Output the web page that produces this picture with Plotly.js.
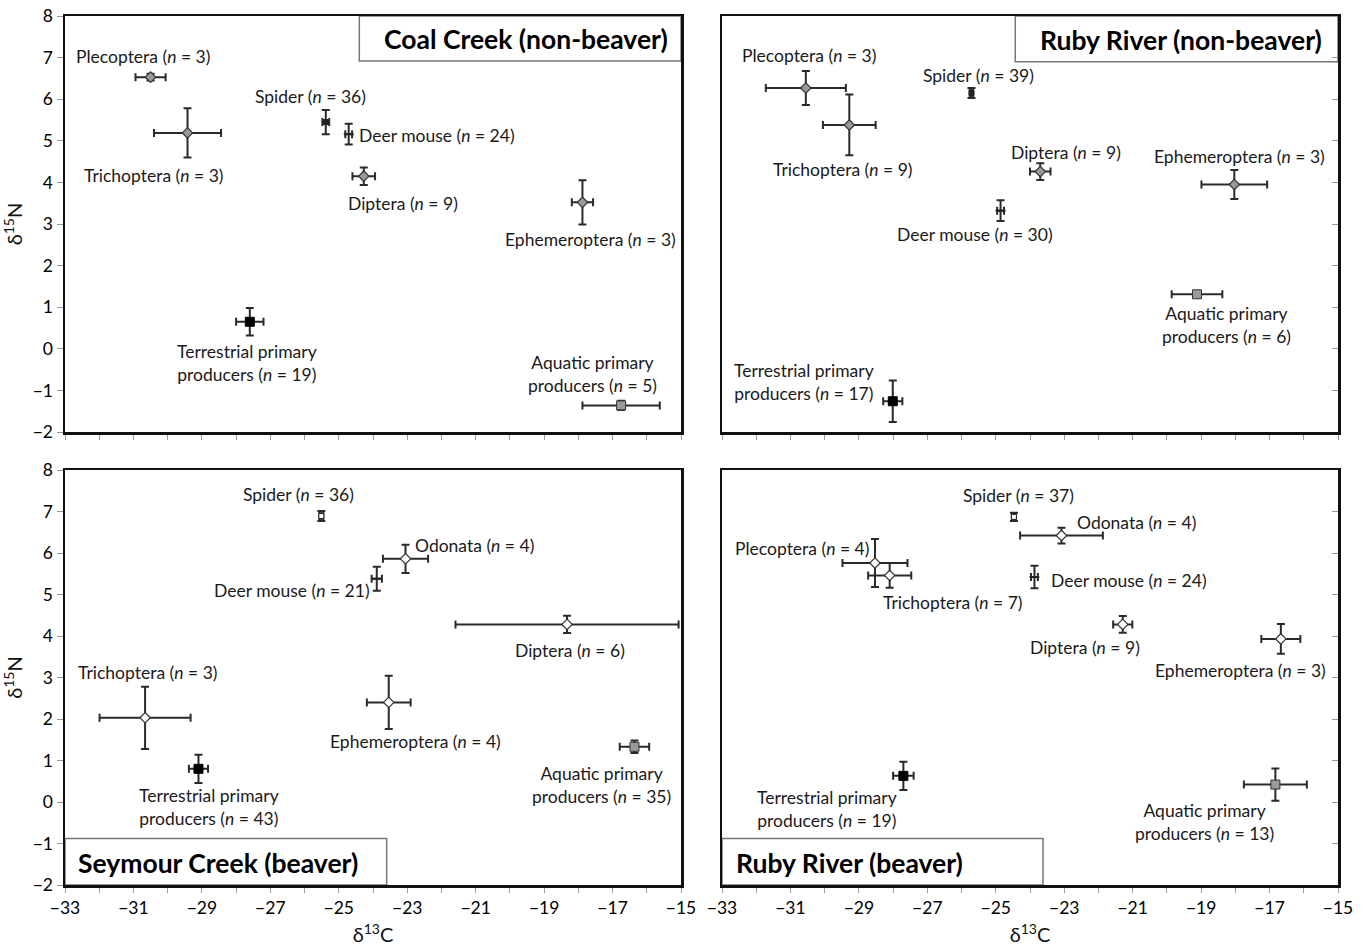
<!DOCTYPE html>
<html>
<head>
<meta charset="utf-8">
<script src="https://cdn.plot.ly/plotly-3.0.1.min.js"></script>
<style>html,body{margin:0;padding:0;background:#fff;}#chart{width:1363px;height:946px;}</style>
</head>
<body>
<div id="chart"></div>
<script>
// ---------- DATA ----------
const panelTitles = ['Coal Creek (non-beaver)', 'Ruby River (non-beaver)', 'Seymour Creek (beaver)', 'Ruby River (beaver)'];

const coalGroups = ['Plecoptera', 'Trichoptera', 'Spider', 'Deer mouse', 'Diptera', 'Ephemeroptera', 'Terrestrial primary producers', 'Aquatic primary producers'];
const coalN      = [3, 3, 36, 24, 9, 3, 19, 5];
const coalC13    = [-30.50, -29.42, -25.38, -24.71, -24.27, -17.88, -27.60, -16.75];
const coalC13sd  = [0.44, 0.98, 0.10, 0.10, 0.33, 0.31, 0.40, 1.13];
const coalN15    = [6.53, 5.19, 5.45, 5.16, 4.15, 3.52, 0.65, -1.36];
const coalN15sd  = [0.08, 0.59, 0.29, 0.25, 0.21, 0.53, 0.33, 0.11];

const rubyNbGroups = ['Plecoptera', 'Trichoptera', 'Spider', 'Deer mouse', 'Diptera', 'Ephemeroptera', 'Terrestrial primary producers', 'Aquatic primary producers'];
const rubyNbN      = [3, 9, 39, 30, 9, 3, 17, 6];
const rubyNbC13    = [-30.55, -29.28, -25.71, -24.86, -23.70, -18.03, -28.01, -19.12];
const rubyNbC13sd  = [1.17, 0.77, 0.05, 0.10, 0.30, 0.96, 0.28, 0.74];
const rubyNbN15    = [6.27, 5.38, 6.15, 3.32, 4.26, 3.95, -1.26, 1.31];
const rubyNbN15sd  = [0.41, 0.73, 0.12, 0.25, 0.20, 0.35, 0.50, 0.05];

const seymourGroups = ['Spider', 'Odonata', 'Deer mouse', 'Diptera', 'Trichoptera', 'Ephemeroptera', 'Terrestrial primary producers', 'Aquatic primary producers'];
const seymourN      = [36, 4, 21, 6, 3, 4, 43, 35];
const seymourC13    = [-25.51, -23.05, -23.89, -18.33, -30.66, -23.54, -29.10, -16.36];
const seymourC13sd  = [0.06, 0.66, 0.15, 3.26, 1.33, 0.64, 0.28, 0.43];
const seymourN15    = [6.89, 5.86, 5.38, 4.28, 2.03, 2.40, 0.80, 1.33];
const seymourN15sd  = [0.12, 0.34, 0.29, 0.21, 0.75, 0.64, 0.34, 0.15];

const rubyBGroups = ['Spider', 'Odonata', 'Plecoptera', 'Trichoptera', 'Deer mouse', 'Diptera', 'Ephemeroptera', 'Terrestrial primary producers', 'Aquatic primary producers'];
const rubyBN      = [37, 4, 4, 7, 24, 9, 3, 19, 13];
const rubyBC13    = [-24.47, -23.08, -28.53, -28.10, -23.87, -21.29, -16.67, -27.70, -16.83];
const rubyBC13sd  = [0.06, 1.21, 0.95, 0.63, 0.10, 0.28, 0.57, 0.30, 0.92];
const rubyBN15    = [6.87, 6.42, 5.76, 5.46, 5.42, 4.28, 3.93, 0.63, 0.42];
const rubyBN15sd  = [0.10, 0.19, 0.58, 0.30, 0.27, 0.20, 0.36, 0.34, 0.39];

const xTickVals = [-33, -31, -29, -27, -25, -23, -21, -19, -17, -15];
const yTickVals = [-2, -1, 0, 1, 2, 3, 4, 5, 6, 7, 8];

// ---------- LABEL PLACEMENT (data coords of label centres) ----------
const labelPos = [
  [[-30.71, 7.02], [-30.40, 4.17], [-25.84, 6.07], [-22.12, 5.13], [-23.13, 3.50], [-17.65, 2.63], [-27.68, -0.34], [-17.58, -0.60]],
  [[-30.45, 7.04], [-29.47, 4.30], [-25.50, 6.58], [-25.61, 2.74], [-22.95, 4.72], [-17.89, 4.62], [-30.61, -0.80], [-18.26, 0.58]],
  [[-26.18, 7.42], [-21.03, 6.17], [-26.37, 5.09], [-18.23, 3.64], [-30.58, 3.13], [-22.77, 1.47], [-28.78, -0.11], [-17.32, 0.40]],
  [[-24.33, 7.38], [-20.88, 6.74], [-30.65, 6.10], [-26.25, 4.81], [-21.10, 5.33], [-22.40, 3.73], [-17.84, 3.17], [-29.93, -0.16], [-18.90, -0.47]]
];
const titleBoxes = [
  {x0: -24.40, x1: -15, y0: 6.92, y1: 8, tx: -19.54, ty: 7.45},
  {x0: -24.43, x1: -15, y0: 6.90, y1: 8, tx: -19.58, ty: 7.42},
  {x0: -33, x1: -23.60, y0: -2, y1: -0.88, tx: -28.52, ty: -1.48},
  {x0: -33, x1: -23.62, y0: -2, y1: -0.88, tx: -29.28, ty: -1.48}
];

const panels = [
  {groups: coalGroups, n: coalN, x: coalC13, xe: coalC13sd, y: coalN15, ye: coalN15sd, top: true},
  {groups: rubyNbGroups, n: rubyNbN, x: rubyNbC13, xe: rubyNbC13sd, y: rubyNbN15, ye: rubyNbN15sd, top: true},
  {groups: seymourGroups, n: seymourN, x: seymourC13, xe: seymourC13sd, y: seymourN15, ye: seymourN15sd, top: false},
  {groups: rubyBGroups, n: rubyBN, x: rubyBC13, xe: rubyBC13sd, y: rubyBN15, ye: rubyBN15sd, top: false}
];

// ---------- STYLES ----------
const FONT = 'Lato, Carlito, "Liberation Sans", sans-serif';
const ERR = '#2a2a2a';
function markerFor(group, top) {
  if (group === 'Spider') return {symbol: 'square', size: 5, color: top ? '#222' : '#fff', line: {color: '#222', width: 1}};
  if (group === 'Deer mouse') return {symbol: 'line-ew', size: 7, color: '#222', line: {color: '#222', width: 2}};
  if (group.startsWith('Terrestrial')) return {symbol: 'square', size: 9, color: '#000', line: {color: '#000', width: 1}};
  if (group.startsWith('Aquatic')) return {symbol: 'square', size: 9, color: '#9a9a9a', line: {color: '#333', width: 1}};
  return {symbol: 'diamond', size: 8, color: top ? '#9a9a9a' : '#fff', line: {color: '#333', width: 1.2}};
}
function labelText(group, n) {
  const tail = ' (<i>n</i> = ' + n + ')';
  if (group.endsWith(' primary producers')) {
    return group.replace(' producers', '') + '<br>producers' + tail;
  }
  return group + tail;
}

// ---------- BUILD ----------
const traces = [];
const annotations = [];
const shapes = [];
panels.forEach((p, pi) => {
  const sfx = pi === 0 ? '' : String(pi + 1);
  const xa = 'x' + sfx, ya = 'y' + sfx;
  p.groups.forEach((g, gi) => {
    traces.push({
      type: 'scatter', mode: 'markers', xaxis: xa, yaxis: ya,
      x: [p.x[gi]], y: [p.y[gi]], name: g, showlegend: false,
      marker: markerFor(g, p.top),
      error_x: {type: 'data', array: [p.xe[gi]], visible: true, color: ERR, thickness: 2, width: 4},
      error_y: {type: 'data', array: [p.ye[gi]], visible: true, color: ERR, thickness: 2, width: 4}
    });
    const lp = labelPos[pi][gi];
    annotations.push({
      xref: xa, yref: ya, x: lp[0], y: lp[1], text: labelText(g, p.n[gi]),
      showarrow: false, xanchor: 'center', yanchor: 'middle',
      font: {family: FONT, size: 17.5, color: '#1a1a1a'}
    });
  });
  const tb = titleBoxes[pi];
  shapes.push({type: 'rect', xref: xa, yref: ya, x0: tb.x0, x1: tb.x1, y0: tb.y0, y1: tb.y1,
    line: {color: '#777', width: 1.5}, fillcolor: '#fff', layer: 'below'});
  annotations.push({xref: xa, yref: ya, x: tb.tx, y: tb.ty, text: '<b>' + panelTitles[pi] + '</b>',
    showarrow: false, xanchor: 'center', yanchor: 'middle', font: {family: FONT, size: 26.5, color: '#000'}});
});

const xDomL = [65 / 1363, 681 / 1363], xDomR = [722 / 1363, 1338 / 1363];
const yDomT = [1 - 432 / 946, 1 - 16 / 946], yDomB = [1 - 885 / 946, 1 - 470 / 946];

function xAxis(domain, anchor, labels) {
  const ax = {
    domain: domain, anchor: anchor, range: [-33, -15], autorange: false,
    tickmode: 'array', tickvals: xTickVals, ticktext: xTickVals.map(v => '\u2212' + Math.abs(v)),
    showticklabels: labels, ticks: 'outside', ticklen: 5, tickwidth: 1, tickcolor: '#999',
    minor: {dtick: 1, tick0: -33, ticks: 'outside', ticklen: 5, tickcolor: '#999', tickwidth: 1},
    showgrid: false, zeroline: false, showline: true, linecolor: '#111', linewidth: 2.5, mirror: true,
    tickfont: {family: FONT, size: 17.5, color: '#000'}
  };
  if (labels) ax.title = {text: '\u03b4<sup>13</sup>C', font: {family: FONT, size: 20, color: '#111'}, standoff: 14};
  return ax;
}
function yAxis(domain, anchor, labels) {
  const ax = {
    domain: domain, anchor: anchor, range: [-2, 8], autorange: false,
    tickmode: 'array', tickvals: yTickVals, ticktext: yTickVals.map(v => v < 0 ? '\u2212' + Math.abs(v) : String(v)),
    showticklabels: labels, side: labels ? 'left' : 'right',
    ticks: labels ? 'outside' : 'inside', ticklen: 6, tickwidth: 1, tickcolor: '#999',
    showgrid: false, zeroline: false, showline: true, linecolor: '#111', linewidth: 2.5, mirror: true,
    tickfont: {family: FONT, size: 17.5, color: '#000'}
  };
  if (labels) ax.title = {text: '\u03b4<sup>15</sup>N', font: {family: FONT, size: 20, color: '#111'}, standoff: 10};
  return ax;
}

const layout = {
  width: 1363, height: 946,
  margin: {l: 0, r: 0, t: 0, b: 0},
  paper_bgcolor: '#fff', plot_bgcolor: '#fff',
  showlegend: false,
  xaxis: xAxis(xDomL, 'y', false), yaxis: yAxis(yDomT, 'x', true),
  xaxis2: xAxis(xDomR, 'y2', false), yaxis2: yAxis(yDomT, 'x2', false),
  xaxis3: xAxis(xDomL, 'y3', true), yaxis3: yAxis(yDomB, 'x3', true),
  xaxis4: xAxis(xDomR, 'y4', true), yaxis4: yAxis(yDomB, 'x4', false),
  annotations: annotations, shapes: shapes
};

Plotly.newPlot('chart', traces, layout, {displayModeBar: false, staticPlot: true});
</script>
</body>
</html>
